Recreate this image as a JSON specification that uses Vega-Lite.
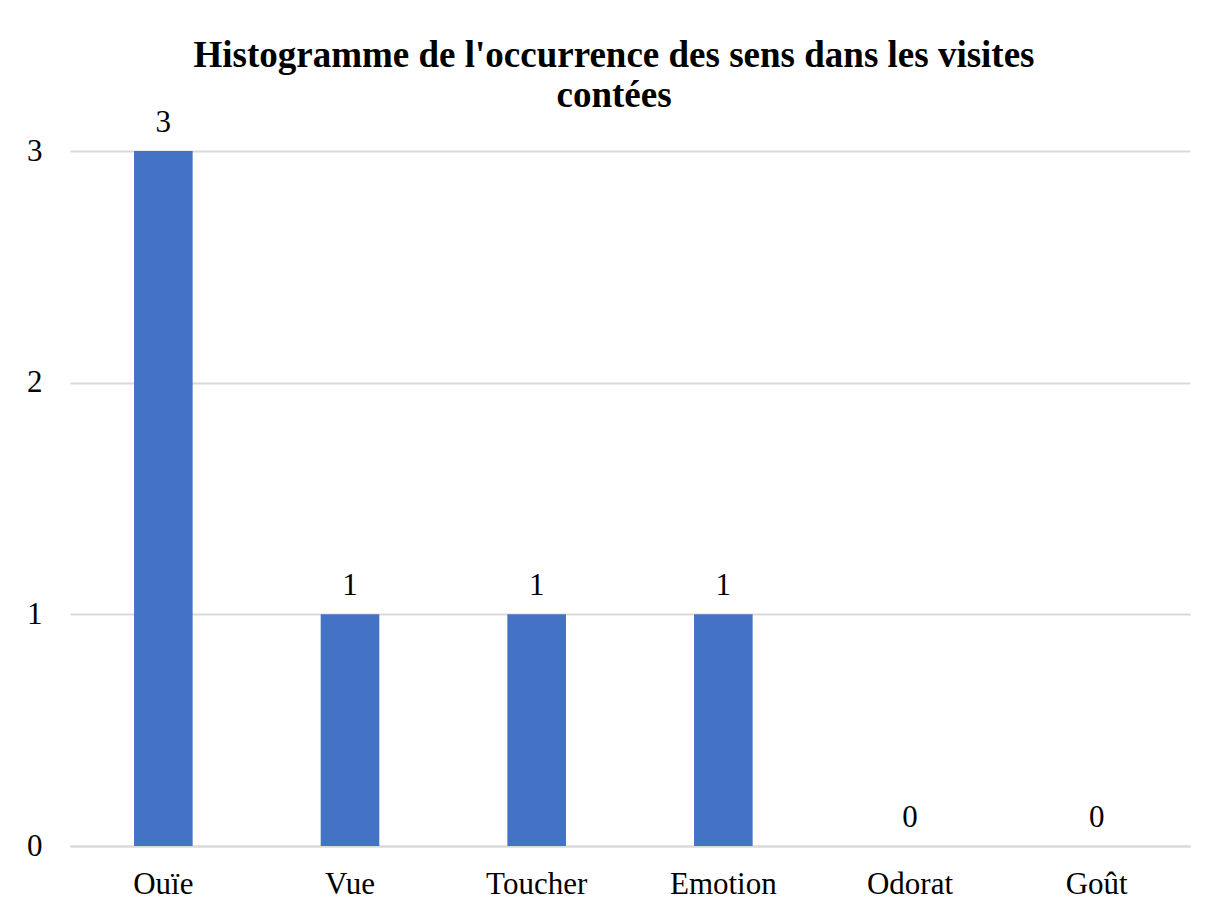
{
  "$schema": "https://vega.github.io/schema/vega-lite/v6.json",
  "autosize": "none",
  "width": 1120,
  "height": 695,
  "padding": {"left": 70, "top": 151, "right": 18, "bottom": 62},
  "background": "white",
  "title": {
    "text": ["Histogramme de l'occurrence des sens dans les visites", "contées"],
    "font": "Liberation Serif",
    "fontSize": 37,
    "fontWeight": "bold",
    "color": "black",
    "lineHeight": 40,
    "baseline": "top",
    "anchor": "middle",
    "frame": "group",
    "offset": -8,
    "dx": -16
  },
  "data": {
    "values": [
      {"sens": "Ouïe", "n": 3},
      {"sens": "Vue", "n": 1},
      {"sens": "Toucher", "n": 1},
      {"sens": "Emotion", "n": 1},
      {"sens": "Odorat", "n": 0},
      {"sens": "Goût", "n": 0}
    ]
  },
  "config": {
    "view": {"stroke": null},
    "font": "Liberation Serif"
  },
  "encoding": {
    "x": {
      "field": "sens",
      "type": "nominal",
      "sort": null,
      "scale": {"paddingInner": 0.686, "paddingOuter": 0.343},
      "axis": {
        "title": null,
        "labelAngle": 0,
        "labelFont": "Liberation Serif",
        "labelFontSize": 31,
        "labelColor": "black",
        "labelBaseline": "alphabetic",
        "labelPadding": 47,
        "ticks": false,
        "tickSize": 0,
        "domain": true,
        "domainColor": "#d9d9d9",
        "domainWidth": 2
      }
    },
    "y": {
      "field": "n",
      "type": "quantitative",
      "scale": {"domain": [0, 3], "nice": false},
      "axis": {
        "title": null,
        "values": [0, 1, 2, 3],
        "format": "d",
        "labelFont": "Liberation Serif",
        "labelFontSize": 31,
        "labelColor": "black",
        "labelPadding": 28,
        "ticks": false,
        "tickSize": 0,
        "domain": false,
        "grid": true,
        "gridColor": "#d9d9d9",
        "gridWidth": 2
      }
    }
  },
  "layer": [
    {"mark": {"type": "bar", "color": "#4472C4"}},
    {
      "mark": {
        "type": "text",
        "font": "Liberation Serif",
        "fontSize": 31,
        "color": "black",
        "baseline": "alphabetic",
        "dy": -19
      },
      "encoding": {"text": {"field": "n", "type": "quantitative"}}
    }
  ]
}
